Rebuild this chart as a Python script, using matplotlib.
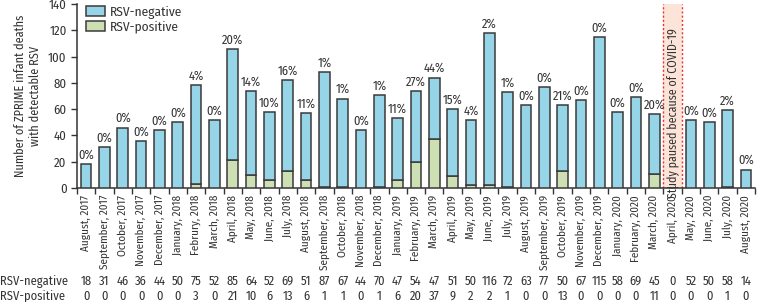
import matplotlib
matplotlib.use("Agg")
import matplotlib.pyplot as plt
from matplotlib.patches import Rectangle, Patch
import matplotlib.transforms as mtransforms
import numpy as np

plt.rcParams['font.family'] = ['Fira Sans Condensed', 'DejaVu Sans']

months = ["August, 2017", "September, 2017", "October, 2017", "November, 2017", "December, 2017",
          "January, 2018", "Februry, 2018", "March, 2018", "April, 2018", "May, 2018",
          "June, 2018", "July, 2018", "August, 2018", "September, 2018", "October, 2018",
          "November, 2018", "December, 2018", "January, 2019", "February, 2019", "March, 2019",
          "April, 2019", "May, 2019", "June, 2019", "July, 2019", "August, 2019",
          "September, 2019", "October, 2019", "November, 2019", "December, 2019", "January, 2020",
          "February, 2020", "March, 2020", "April, 2020", "May, 2020", "June, 2020",
          "July, 2020", "August, 2020"]
rsv_negative = [18, 31, 46, 36, 44, 50, 75, 52, 85, 64, 52, 69, 51, 87, 67, 44, 70, 47, 54, 47,
                51, 50, 116, 72, 63, 77, 50, 67, 115, 58, 69, 45, 0, 52, 50, 58, 14]
rsv_positive = [0, 0, 0, 0, 0, 0, 3, 0, 21, 10, 6, 13, 6, 1, 1, 0, 1, 6, 20, 37,
                9, 2, 2, 1, 0, 0, 13, 0, 0, 0, 0, 11, 0, 0, 0, 1, 0]
pct_labels = ["0%", "0%", "0%", "0%", "0%", "0%", "4%", "0%", "20%", "14%",
              "10%", "16%", "11%", "1%", "1%", "0%", "1%", "11%", "27%", "44%",
              "15%", "4%", "2%", "1%", "0%", "0%", "21%", "0%", "0%", "0%",
              "0%", "20%", "", "0%", "0%", "2%", "0%"]
paused_index = 32

BLUE = "#96d4e8"
GREEN = "#cde0b4"
EDGE = "#3a3a3a"
TXT = "#333333"

fig = plt.figure(figsize=(7.57, 3.02), dpi=100)
ax = fig.add_axes([77/757, 1-188/302, (755-77)/757, (188-4)/302])

x = np.arange(len(months))
neg = np.array(rsv_negative)
pos = np.array(rsv_positive)

ax.add_patch(Rectangle((paused_index-0.5, 0), 1, 140, facecolor="#fce4d9", edgecolor="none", zorder=0))
for xe in (paused_index-0.5, paused_index+0.5):
    ax.plot([xe, xe], [0, 140], color="#e8322e", ls=(0, (1.5, 1.5)), lw=1.0, zorder=1)
ax.text(paused_index, 57, "Study paused because of COVID-19", rotation=90, ha="center", va="center",
        fontsize=8.6, color=TXT, zorder=2)

w = 0.58
ax.bar(x, pos, width=w, color=GREEN, edgecolor=EDGE, linewidth=1.1, zorder=3)
ax.bar(x, neg, width=w, bottom=pos, color=BLUE, edgecolor=EDGE, linewidth=1.1, zorder=3)

for xi, n, p, lab in zip(x, neg, pos, pct_labels):
    if lab:
        ax.annotate(lab, (xi, n+p), xytext=(0, 2), textcoords="offset points",
                    ha="center", va="bottom", fontsize=9, color=TXT)

ax.set_xlim(-0.5, len(months)-0.5)
ax.set_ylim(0, 140)
ax.set_yticks(range(0, 141, 20))
ax.set_xticks(x)
ax.set_xticklabels(months, rotation=90, fontsize=8.0, color=TXT)
ax.set_xticks(np.arange(-0.5, len(months), 1), minor=True)
ax.tick_params(axis="x", which="major", length=0, pad=5)
ax.tick_params(axis="x", which="minor", length=4, width=1, color=TXT, direction="out")
ax.tick_params(axis="y", length=4, width=1, color=TXT, labelsize=9.2, labelcolor=TXT)
for s in ("top", "right"):
    ax.spines[s].set_visible(False)
for s in ("left", "bottom"):
    ax.spines[s].set_color(TXT)
    ax.spines[s].set_linewidth(1.1)

ax.set_ylabel("Number of ZPRIME infant deaths\nwith detectable RSV", fontsize=8.8, color=TXT, labelpad=5)

handles = [Patch(facecolor=BLUE, edgecolor=EDGE, lw=1.1, label="RSV-negative"),
           Patch(facecolor=GREEN, edgecolor=EDGE, lw=1.1, label="RSV-positive")]
ax.legend(handles=handles, loc="upper left", bbox_to_anchor=(0.0, 1.04), frameon=False,
          fontsize=9.6, handlelength=1.4, handleheight=0.8, handletextpad=0.4,
          labelspacing=0.1, borderaxespad=0.3, labelcolor=TXT)

trans = mtransforms.blended_transform_factory(ax.transData, fig.transFigure)
y_neg = 1 - 281/302
y_pos = 1 - 296/302
for xi, n, p in zip(x, neg, pos):
    ax.text(xi, y_neg, str(n), transform=trans, ha="center", va="center", fontsize=9, color=TXT)
    ax.text(xi, y_pos, str(p), transform=trans, ha="center", va="center", fontsize=9, color=TXT)
fig.text(0.0, y_neg, "RSV-negative", ha="left", va="center", fontsize=9, color=TXT)
fig.text(0.0, y_pos, "RSV-positive", ha="left", va="center", fontsize=9, color=TXT)

fig.savefig("out.png", dpi=100)
